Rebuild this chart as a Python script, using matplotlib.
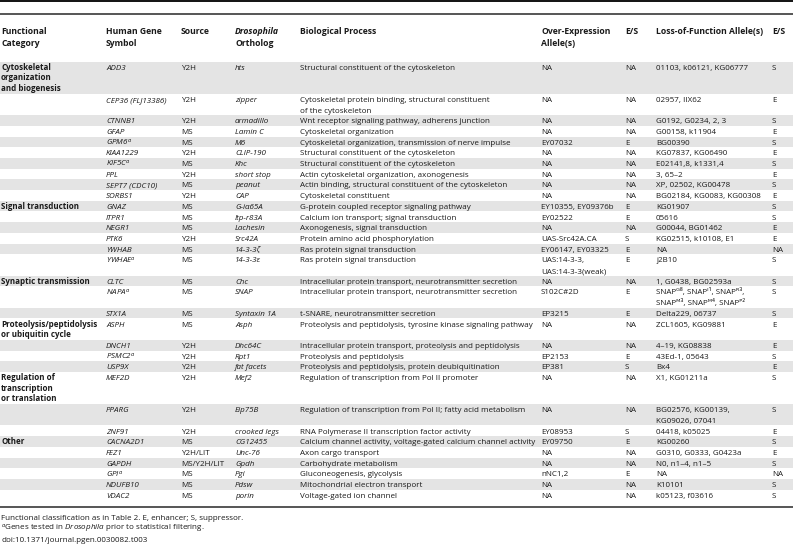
import matplotlib
matplotlib.use('Agg')
import matplotlib.pyplot as plt

plt.rcParams['font.family'] = ['Open Sans', 'DejaVu Sans']
plt.rcParams['mathtext.fontset'] = 'custom'
plt.rcParams['mathtext.rm'] = 'Open Sans'
plt.rcParams['mathtext.it'] = 'Open Sans:italic'
plt.rcParams['mathtext.bf'] = 'Open Sans:bold'

# ---- table content ----
categories = ['Cytoskeletal\norganization\nand biogenesis', '', '', '', '', '', '', '', '', '',
              'Signal transduction', '', '', '', '', '',
              'Synaptic transmission', '', '',
              'Proteolysis/peptidolysis\nor ubiquitin cycle', '', '', '',
              'Regulation of\ntranscription\nor translation', '', '',
              'Other', '', '', '', '', '']

genes = ['ADD3', 'CEP36 (FLJ13386)', 'CTNNB1', 'GFAP', 'GPM6$^{a}$', 'KIAA1229', 'KIF5C$^{a}$',
         'PPL', 'SEPT7 (CDC10)', 'SORBS1',
         'GNAZ', 'ITPR1', 'NEGR1', 'PTK6', 'YWHAB', 'YWHAE$^{a}$',
         'CLTC', 'NAPA$^{a}$', 'STX1A',
         'ASPH', 'DNCH1', 'PSMC2$^{a}$', 'USP9X',
         'MEF2D', 'PPARG', 'ZNF91',
         'CACNA2D1', 'FEZ1', 'GAPDH', 'GPI$^{a}$', 'NDUFB10', 'VDAC2']

sources = ['Y2H', 'Y2H', 'Y2H', 'MS', 'MS', 'Y2H', 'MS', 'Y2H', 'MS', 'Y2H',
           'MS', 'MS', 'MS', 'Y2H', 'MS', 'MS',
           'MS', 'MS', 'MS',
           'MS', 'Y2H', 'Y2H', 'Y2H',
           'Y2H', 'Y2H', 'Y2H',
           'MS', 'Y2H/LIT', 'MS/Y2H/LIT', 'MS', 'MS', 'MS']

orthologs = ['hts', 'zipper', 'armadillo', 'Lamin C', 'M6', 'CLIP-190', 'Khc', 'short stop',
             'peanut', 'CAP',
             'G-i\u03b165A', 'Itp-r83A', 'Lachesin', 'Src42A', '14-3-3\u03b6', '14-3-3\u03b5',
             'Chc', 'SNAP', 'Syntaxin 1A',
             'Asph', 'Dhc64C', 'Rpt1', 'fat facets',
             'Mef2', 'Eip75B', 'crooked legs',
             'CG12455', 'Unc-76', 'Gpdh', 'Pgi', 'Pdsw', 'porin']

processes = ['Structural constituent of the cytoskeleton',
             'Cytoskeletal protein binding, structural constituent\nof the cytoskeleton',
             'Wnt receptor signaling pathway, adherens junction',
             'Cytoskeletal organization',
             'Cytoskeletal organization, transmission of nerve impulse',
             'Structural constituent of the cytoskeleton',
             'Structural constituent of the cytoskeleton',
             'Actin cytoskeletal organization, axonogenesis',
             'Actin binding, structural constituent of the cytoskeleton',
             'Cytoskeletal constituent',
             'G-protein coupled receptor signaling pathway',
             'Calcium ion transport; signal transduction',
             'Axonogenesis, signal transduction',
             'Protein amino acid phosphorylation',
             'Ras protein signal transduction',
             'Ras protein signal transduction',
             'Intracellular protein transport, neurotransmitter secretion',
             'Intracellular protein transport, neurotransmitter secretion',
             't-SNARE, neurotransmitter secretion',
             'Proteolysis and peptidolysis, tyrosine kinase signaling pathway',
             'Intracellular protein transport, proteolysis and peptidolysis',
             'Proteolysis and peptidolysis',
             'Proteolysis and peptidolysis, protein deubiquitination',
             'Regulation of transcription from Pol II promoter',
             'Regulation of transcription from Pol II; fatty acid metabolism',
             'RNA Polymerase II transcription factor activity',
             'Calcium channel activity, voltage-gated calcium channel activity',
             'Axon cargo transport',
             'Carbohydrate metabolism',
             'Gluconeogenesis, glycolysis',
             'Mitochondrial electron transport',
             'Voltage-gated ion channel']

oe_alleles = ['NA', 'NA', 'NA', 'NA', 'EY07032', 'NA', 'NA', 'NA', 'NA', 'NA',
              'EY10355, EY09376b', 'EY02522', 'NA', 'UAS-Src42A.CA', 'EY06147, EY03325',
              'UAS:14-3-3,\nUAS:14-3-3(weak)',
              'NA', 'S102C#2D', 'EP3215',
              'NA', 'NA', 'EP2153', 'EP381',
              'NA', 'NA', 'EY08953',
              'EY09750', 'NA', 'NA', 'nNC1,2', 'NA', 'NA']

oe_es = ['NA', 'NA', 'NA', 'NA', 'E', 'NA', 'NA', 'NA', 'NA', 'NA',
         'E', 'E', 'NA', 'S', 'E', 'E',
         'NA', 'E', 'E',
         'NA', 'NA', 'E', 'S',
         'NA', 'NA', 'S',
         'E', 'NA', 'NA', 'E', 'NA', 'NA']

# SNAP allele superscripts written with unicode modifier letters
lof_alleles = ['01103, k06121, KG06777', '02957, IIX62', 'G0192, G0234, 2, 3', 'G00158, k11904',
               'BG00390', 'KG07837, KG06490', 'E02141,8, k1331,4', '3, 65\u20132',
               'XP, 02502, KG00478', 'BG02184, KG0083, KG00308',
               'KG01907', '05616', 'G00044, BG01462', 'KG02515, k10108, E1', 'NA', 'j2B10',
               '1, G0438, BG02593a',
               'SNAP\u1d33\u2078, SNAP\u1d35\u00b9, SNAP\u1d3f\u00b3,\n'
               'SNAP\u1d39\u00b3, SNAP\u1d39\u2074, SNAP\u1d3e\u00b2',
               'Delta229, 06737',
               'ZCL1605, KG09881', '4\u201319, KG08838', '43Ed-1, 05643', 'Bx4',
               'X1, KG01211a', 'BG02576, KG00139,\nKG09026, 07041', '04418, k05025',
               'KG00260', 'G0310, G0333, G0423a', 'N0, n1\u20134, n1\u20135', 'NA', 'K10101',
               'k05123, f03616']

lof_es = ['S', 'E', 'S', 'E', 'S', 'E', 'S', 'E', 'S', 'E',
          'S', 'S', 'E', 'E', 'NA', 'S',
          'S', 'S', 'S',
          'E', 'E', 'S', 'E',
          'S', 'S', 'E',
          'S', 'E', 'S', 'NA', 'S', 'S']

footnotes = ['Functional classification as in Table 2. E, enhancer; S, suppressor.',
             '$^{a}$Genes tested in $\\mathit{Drosophila}$ prior to statistical filtering.',
             'doi:10.1371/journal.pgen.0030082.t003']

# ---- layout (pixel coordinates) ----
W, H = 793, 548
fig = plt.figure(figsize=(W / 100, H / 100), dpi=100)
ax = fig.add_axes([0, 0, 1, 1])
ax.set_xlim(0, W)
ax.set_ylim(H, 0)
ax.axis('off')

col_x = [1, 106, 181, 235, 300, 541, 625, 656, 772]
fs = 5.75
hfs = 6.2
txt = '#1a1a1a'
band = '#e4e4e4'
L = 10.7
top = 61.7

# rules
ax.plot([0, W], [1, 1], color='#111111', lw=1.4, solid_capstyle='butt')
ax.plot([0, W], [14, 14], color='#555555', lw=1.4, solid_capstyle='butt')
ax.plot([0, W], [507, 507], color='#555555', lw=1.4, solid_capstyle='butt')

# header
hdr = ['Functional\nCategory', 'Human Gene\nSymbol', 'Source', None, 'Biological Process',
       'Over-Expression\nAllele(s)', 'E/S', 'Loss-of-Function Allele(s)', 'E/S']
for x, h in zip(col_x, hdr):
    if h is None:
        continue
    for j, line in enumerate(h.split('\n')):
        ax.text(x, 33.8 + j * 12.5, line, fontsize=hfs, fontweight='bold', color=txt, va='baseline')
ax.text(col_x[3], 33.8, 'Drosophila', fontsize=hfs, fontweight='bold', style='italic', color=txt, va='baseline')
ax.text(col_x[3], 46.3, 'Ortholog', fontsize=hfs, fontweight='bold', color=txt, va='baseline')

# body rows
y = top
for i in range(len(genes)):
    cells = [categories[i], genes[i], sources[i], orthologs[i], processes[i],
             oe_alleles[i], oe_es[i], lof_alleles[i], lof_es[i]]
    n = max(c.count('\n') + 1 for c in cells)
    if i % 2 == 0:
        ax.axhspan(y, y + n * L, color=band, lw=0, zorder=0)
    for k, (x, c) in enumerate(zip(col_x, cells)):
        kw = dict(fontsize=fs, color=txt, va='baseline')
        if k == 0:
            kw['fontweight'] = 'bold'
        if k in (1, 3):
            kw['style'] = 'italic'
        for j, line in enumerate(c.split('\n')):
            if line:
                ax.text(x, y + (j + 0.5) * L + 2.7, line, **kw)
    y += n * L

# footnotes
for j, f in enumerate(footnotes):
    ax.text(1, 520 + j * 11, f, fontsize=fs, color=txt, va='baseline')

fig.savefig('out.png', dpi=100)
